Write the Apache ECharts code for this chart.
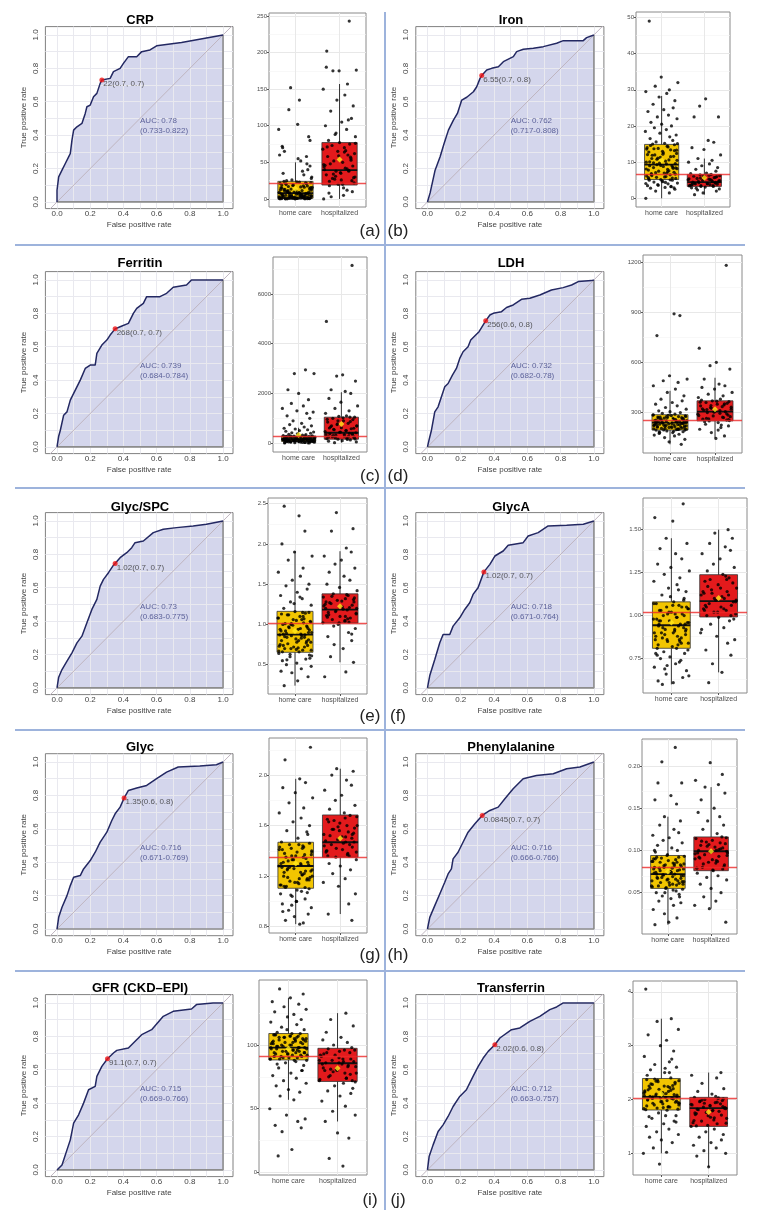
<!DOCTYPE html>
<html><head><meta charset="utf-8">
<script src="https://cdn.jsdelivr.net/npm/echarts@6/dist/echarts.min.js"></script>
<style>html,body{margin:0;padding:0;background:#fff}#c{width:759px;height:1227px}</style>
</head><body><div id="c"></div>
<script>
// ---------------- DATA ----------------
const titles = ['CRP','Iron','Ferritin','LDH','Glyc/SPC','GlycA','Glyc','Phenylalanine','GFR (CKD\u2013EPI)','Transferrin'];
const panelLetters = ['(a)','(b)','(c)','(d)','(e)','(f)','(g)','(h)','(i)','(j)'];
const groups = ['home care','hospitalized'];

// ROC curves: [false positive rate, true positive rate]
const rocCRP = [[0,0],[0,0.07],[0.01,0.15],[0.03,0.19],[0.05,0.23],[0.07,0.27],[0.08,0.29],[0.09,0.37],[0.10,0.43],[0.12,0.45],[0.15,0.47],[0.17,0.53],[0.18,0.57],[0.20,0.58],[0.22,0.63],[0.24,0.65],[0.26,0.71],[0.27,0.73],[0.32,0.74],[0.34,0.78],[0.38,0.80],[0.40,0.83],[0.43,0.87],[0.48,0.87],[0.51,0.90],[0.56,0.91],[0.60,0.935],[0.75,0.955],[1,1]];
const rocIron = [[0,0],[0.016,0.054],[0.046,0.19],[0.076,0.27],[0.10,0.35],[0.126,0.43],[0.156,0.49],[0.18,0.53],[0.206,0.61],[0.236,0.627],[0.276,0.66],[0.296,0.69],[0.316,0.74],[0.326,0.757],[0.356,0.79],[0.386,0.80],[0.426,0.81],[0.456,0.84],[0.516,0.87],[0.536,0.90],[0.576,0.914],[0.636,0.92],[0.696,0.93],[0.776,0.95],[0.816,0.966],[0.936,0.966],[0.956,0.984],[1,1]];
const rocFerritin = [[0,0],[0.01,0.064],[0.02,0.10],[0.04,0.19],[0.06,0.21],[0.08,0.28],[0.11,0.34],[0.14,0.40],[0.17,0.47],[0.20,0.49],[0.23,0.49],[0.24,0.56],[0.27,0.61],[0.30,0.64],[0.32,0.67],[0.35,0.707],[0.38,0.72],[0.43,0.74],[0.46,0.80],[0.48,0.83],[0.52,0.86],[0.54,0.90],[0.62,0.90],[0.66,0.92],[0.70,0.956],[0.78,0.97],[0.81,1.0],[1,1]];
const rocLDH = [[0,0],[0.01,0.044],[0.024,0.10],[0.044,0.21],[0.064,0.24],[0.084,0.30],[0.104,0.36],[0.124,0.38],[0.15,0.43],[0.174,0.47],[0.194,0.53],[0.214,0.57],[0.244,0.60],[0.26,0.64],[0.29,0.67],[0.31,0.69],[0.334,0.73],[0.35,0.755],[0.375,0.79],[0.395,0.80],[0.445,0.81],[0.475,0.835],[0.515,0.85],[0.565,0.884],[0.615,0.89],[0.675,0.91],[0.745,0.94],[0.815,0.954],[0.866,0.97],[0.906,0.99],[0.986,0.996],[1,1]];
const rocGlycSPC = [[0,0],[0.01,0.064],[0.03,0.11],[0.06,0.16],[0.09,0.21],[0.12,0.27],[0.15,0.31],[0.18,0.39],[0.21,0.47],[0.24,0.53],[0.26,0.61],[0.28,0.65],[0.31,0.69],[0.34,0.735],[0.35,0.745],[0.38,0.78],[0.42,0.81],[0.45,0.84],[0.47,0.87],[0.52,0.88],[0.58,0.93],[0.64,0.95],[0.72,0.96],[0.82,0.97],[0.90,0.98],[1,1]];
const rocGlycA = [[0,0],[0.014,0.074],[0.044,0.17],[0.074,0.27],[0.094,0.32],[0.134,0.32],[0.154,0.37],[0.194,0.42],[0.224,0.47],[0.254,0.51],[0.274,0.56],[0.304,0.60],[0.339,0.695],[0.375,0.74],[0.405,0.79],[0.455,0.82],[0.485,0.855],[0.575,0.87],[0.605,0.91],[0.665,0.93],[0.725,0.97],[0.836,0.974],[0.936,0.98],[1,1]];
const rocGlyc = [[0,0],[0.01,0.07],[0.03,0.13],[0.06,0.20],[0.08,0.26],[0.10,0.31],[0.14,0.32],[0.16,0.36],[0.20,0.41],[0.23,0.46],[0.26,0.52],[0.30,0.58],[0.33,0.65],[0.35,0.69],[0.38,0.73],[0.404,0.784],[0.43,0.83],[0.48,0.844],[0.54,0.86],[0.60,0.90],[0.66,0.94],[0.73,0.97],[0.86,0.976],[0.96,0.984],[1,1]];
const rocPhe = [[0,0],[0.014,0.07],[0.044,0.14],[0.074,0.21],[0.104,0.28],[0.124,0.33],[0.144,0.36],[0.154,0.42],[0.184,0.46],[0.204,0.50],[0.244,0.58],[0.285,0.63],[0.329,0.68],[0.375,0.71],[0.425,0.73],[0.465,0.78],[0.515,0.84],[0.575,0.90],[0.655,0.92],[0.756,0.93],[0.836,0.96],[0.916,0.97],[1,1]];
const rocGFR = [[0,0],[0.03,0.03],[0.06,0.12],[0.08,0.18],[0.10,0.28],[0.13,0.33],[0.16,0.40],[0.19,0.48],[0.23,0.50],[0.24,0.56],[0.27,0.62],[0.304,0.666],[0.34,0.70],[0.36,0.716],[0.43,0.73],[0.46,0.76],[0.51,0.81],[0.57,0.84],[0.64,0.92],[0.70,0.95],[0.81,0.964],[0.84,0.99],[0.94,1],[1,1]];
const rocTransferrin = [[0,0],[0.01,0.08],[0.034,0.15],[0.064,0.23],[0.094,0.27],[0.124,0.32],[0.154,0.38],[0.194,0.44],[0.234,0.48],[0.274,0.56],[0.305,0.62],[0.335,0.67],[0.365,0.71],[0.405,0.75],[0.435,0.79],[0.505,0.84],[0.555,0.85],[0.615,0.89],[0.675,0.92],[0.735,0.96],[0.776,0.976],[0.816,1.0],[1,1]];
const rocs = [rocCRP,rocIron,rocFerritin,rocLDH,rocGlycSPC,rocGlycA,rocGlyc,rocPhe,rocGFR,rocTransferrin];

// best threshold point and labels
const thrPoint = [[0.27,0.73],[0.326,0.757],[0.35,0.707],[0.35,0.755],[0.35,0.745],[0.339,0.695],[0.404,0.784],[0.329,0.68],[0.304,0.666],[0.405,0.75]];
const thrLabel = ['22(0.7, 0.7)','6.55(0.7, 0.8)','268(0.7, 0.7)','256(0.6, 0.8)','1.02(0.7, 0.7)','1.02(0.7, 0.7)','1.35(0.6, 0.8)','0.0845(0.7, 0.7)','91.1(0.7, 0.7)','2.02(0.6, 0.8)'];
const aucText = ['AUC: 0.78','AUC: 0.762','AUC: 0.739','AUC: 0.732','AUC: 0.73','AUC: 0.718','AUC: 0.716','AUC: 0.716','AUC: 0.715','AUC: 0.712'];
const ciText = ['(0.733-0.822)','(0.717-0.808)','(0.684-0.784)','(0.682-0.78)','(0.683-0.775)','(0.671-0.764)','(0.671-0.769)','(0.666-0.766)','(0.669-0.766)','(0.663-0.757)'];
const rocTicks = [0,0.2,0.4,0.6,0.8,1];
const rocGrid = [0,0.1,0.2,0.3,0.4,0.5,0.6,0.7,0.8,0.9,1];

// box plot values per group
const hcCRP = [0.5,1,0.3,2,5,12,0.8,3,18,7,1.2,24,9,0.4,15,4,2.5,30,0.7,11,6,21,1.5,45,3.5,8,0.2,16,13,55,2,0.9,19,5.5,28,10,0.6,35,7.5,1.1,14,60,23,3,0.5,9.5,40,17,1.8,72,6.5,0.3,26,12.5,4.5,85,20,1,8.5,48,2.2,33,15.5,0.8,95,5,11.5,22,0.4,65,3.8,13.5,38,1.4,102,7,25,0.6,18.5,52,9,2.8,122,16,0.2,70,4,135,10.5,80,152,1.6,21.5,58,6,0.1,0.9,2.4,3.1,4.8,6.8,0.2,0.5,0.9,1.3,1.7,2.1,2.6,3.2,3.9,4.6,5.3,6.1,7.1,8.1,9.2,10.3,11.4,12.6,13.8,15.1,16.4,17.8,19.2,20.6,22.3,23.5,0.7,1.9,3.4,5.9];
const hsCRP = [0,5,12,18,20,25,28,30,33,36,38,38,40,42,45,48,50,52,55,58,60,62,65,68,70,73,75,77,80,85,88,95,100,105,110,120,127,135,142,150,157,175,176,175,202,243,15,8,22,27,35,44,57,66,3,10,90,108,180,20,24,29,34,41,47,53,59,64,71,76,31,39,46,26];
const hcIron = [0,1.5,2,2.5,2.8,3,3.2,3.5,3.8,4,4.2,4.5,4.8,5,5,5.2,5.5,5.8,6,6.2,6.5,6.8,7,7.2,7.5,7.8,8,8.2,8.5,8.8,9,9,9.3,9.6,10,10.3,10.6,11,11.3,11.6,12,12.4,12.8,13,13.4,13.8,14,14.4,14.8,15,15.2,15.6,16,16.5,17,17.5,18,18.5,19,19.5,20,20.5,21,22,22.5,23,24,24.5,25,26,27,28,29,29.5,30,31,32,33.5,49,3.3,4.4,6.6,8.4,10.8,12.2,13.6,5.6,7.4,9.8,2.9,3.6,5.1,5.4,5.9,6.3,6.7,7.1,7.6,8.1,8.6,9.1,9.5,10.1,10.5,11.1,11.5,12.1,12.6,13.2,13.7,14.2,14.6,15.1,5.7,6.9,8.3,9.7,11.9,13.3,4.6,4.1];
const hsIron = [1,1.5,2,2.3,2.6,2.9,3.1,3.3,3.5,3.6,3.8,3.9,4,4.1,4.3,4.4,4.5,4.6,4.8,5,5.1,5.3,5.5,5.7,5.9,6.1,6.3,6.5,6.6,6.8,7,7.5,8,8.5,9,9.5,10,10.5,11,12,13.5,14,15.5,16,22.5,22.5,25.5,27.5,3.4,4.2,5.2,2.8,6,3.3,3.5,3.7,4.0,4.2,4.5,4.7,5.0,5.4,5.8,6.2,6.4,3.9,4.9,5.6];
const hcFerritin = [10,20,30,40,50,60,70,80,90,100,110,120,130,140,150,160,170,180,190,200,210,220,235,250,265,280,290,300,320,340,360,380,400,420,450,480,510,540,570,600,650,700,750,800,900,1000,1100,1200,1250,1300,1400,1500,1600,1750,2000,2150,2800,2800,2950,25,45,65,85,105,125,145,165,185,205,225,245,270,15,35,55,75,95,115,135,12,28,48,72,78,88,96,108,118,128,138,148,158,168,178,188,198,208,218,228,240,255,268,280,292,82,112,142,172,202,232,262,60];
const hsFerritin = [20,50,80,100,130,160,180,200,230,260,290,320,350,380,400,420,440,470,500,540,580,620,660,700,750,800,850,900,950,1000,1045,1080,1100,1200,1300,1400,1500,1650,1800,2000,2080,2150,2500,2700,2750,4900,7150,150,300,600,900,1050,250,350,700,170,210,280,330,390,450,520,610,690,780,870,960,1020,240,560];
const hcLDH = [110,125,140,150,160,165,170,175,180,185,190,195,198,200,205,210,212,215,218,220,222,225,228,230,232,235,238,240,242,245,248,250,252,255,258,260,263,266,270,273,276,280,283,285,290,295,300,305,310,320,330,340,350,360,370,380,400,420,440,460,480,490,500,520,760,880,890,185,195,205,215,225,235,245,255,265,275,200,230,260,180,210,196,199,203,207,211,214,217,221,224,227,231,234,237,241,244,247,251,254,257,262,267,272,277,282,286,202,226,249,268,188];
const hsLDH = [145,160,180,200,210,220,230,240,250,255,260,270,275,280,290,295,300,305,310,315,320,330,335,340,350,355,360,365,370,380,390,400,410,420,440,450,460,470,500,560,580,600,685,1180,225,265,285,325,345,375,195,245,252,262,272,282,292,302,312,322,332,342,352,362,368,258,318];
const hcGlycSPC = [0.24,0.3,0.35,0.4,0.42,0.45,0.48,0.5,0.52,0.55,0.57,0.6,0.62,0.64,0.66,0.68,0.7,0.72,0.74,0.76,0.78,0.8,0.82,0.84,0.86,0.87,0.88,0.9,0.92,0.94,0.96,0.98,1.0,1.02,1.04,1.06,1.08,1.1,1.12,1.14,1.16,1.2,1.24,1.28,1.32,1.36,1.4,1.44,1.48,1.5,1.55,1.6,1.65,1.7,1.8,1.85,1.9,2.0,2.16,2.35,2.47,0.58,0.63,0.69,0.73,0.77,0.83,0.89,0.95,1.01,1.07,1.13,0.71,0.85,0.93,0.97,1.15,0.67,0.79,1.26,1.34,0.66,0.68,0.7,0.72,0.75,0.78,0.81,0.84,0.86,0.88,0.9,0.92,0.95,0.97,0.99,1.01,1.03,1.05,1.08,1.1,1.12,1.15,0.74,0.8,0.87,0.94,1.0,1.06,0.61,0.56];
const hsGlycSPC = [0.35,0.41,0.53,0.6,0.7,0.75,0.8,0.85,0.9,0.95,1.0,1.02,1.04,1.06,1.08,1.1,1.12,1.14,1.16,1.18,1.2,1.22,1.24,1.26,1.28,1.3,1.32,1.34,1.36,1.38,1.42,1.46,1.5,1.55,1.6,1.65,1.7,1.75,1.8,1.85,1.9,1.95,2.16,2.19,2.39,1.03,1.11,1.19,1.27,1.33,0.98,1.07,1.23,0.88,1.02,1.05,1.09,1.13,1.17,1.21,1.25,1.29,1.31,1.35,1.37,1.15,1.2,1.28,1.1];
const hcGlycA = [0.6,0.61,0.62,0.64,0.66,0.68,0.7,0.72,0.73,0.75,0.76,0.78,0.79,0.8,0.81,0.82,0.84,0.85,0.86,0.88,0.89,0.9,0.91,0.92,0.93,0.94,0.95,0.96,0.97,0.98,0.99,1.0,1.01,1.02,1.03,1.04,1.05,1.06,1.07,1.08,1.1,1.12,1.14,1.16,1.18,1.2,1.22,1.24,1.26,1.28,1.3,1.33,1.36,1.39,1.42,1.45,1.55,1.57,1.65,0.83,0.87,0.95,1.01,0.74,0.77,0.92,0.97,1.05,0.69,0.86,0.9,1.09,1.11,0.81,0.83,0.84,0.86,0.87,0.88,0.9,0.91,0.93,0.94,0.95,0.96,0.98,0.99,1.0,1.02,1.03,1.04,1.06,1.07,0.85,0.89,0.92,0.97,1.01,1.05,0.78,0.71,1.15,0.65];
const hsGlycA = [0.61,0.67,0.72,0.77,0.8,0.84,0.86,0.88,0.9,0.93,0.95,0.97,0.99,1.0,1.01,1.02,1.03,1.04,1.05,1.06,1.07,1.08,1.09,1.1,1.12,1.14,1.15,1.16,1.18,1.2,1.22,1.24,1.26,1.28,1.3,1.33,1.36,1.38,1.4,1.42,1.45,1.48,1.5,1.03,1.11,1.17,0.98,1.13,1.21,0.92,1.0,1.02,1.04,1.06,1.08,1.1,1.12,1.14,1.16,1.19,1.21,1.23,1.05,1.09,1.13];
const hcGlyc = [0.82,0.83,0.85,0.88,0.9,0.93,0.95,0.98,1.0,1.02,1.04,1.06,1.08,1.1,1.12,1.14,1.16,1.18,1.2,1.22,1.24,1.26,1.28,1.3,1.32,1.34,1.36,1.38,1.4,1.42,1.44,1.47,1.5,1.53,1.56,1.6,1.63,1.66,1.7,1.74,1.78,1.82,1.86,1.9,1.94,1.97,2.12,2.22,1.05,1.09,1.13,1.17,1.21,1.25,1.29,1.33,1.37,1.41,1.45,1.11,1.19,1.27,1.35,1.43,1.07,1.15,1.23,1.31,1.39,0.97,1.11,1.13,1.15,1.17,1.19,1.21,1.23,1.25,1.27,1.29,1.31,1.33,1.35,1.37,1.39,1.41,1.43,1.45,1.46,1.12,1.18,1.24,1.3,1.36,1.42,1.2,1.26,1.0,0.92,1.55];
const hsGlyc = [0.85,0.9,0.98,1.06,1.12,1.15,1.18,1.22,1.25,1.28,1.3,1.33,1.35,1.37,1.39,1.41,1.43,1.45,1.47,1.49,1.51,1.53,1.55,1.57,1.6,1.62,1.65,1.68,1.7,1.73,1.76,1.8,1.84,1.88,1.92,1.96,2.0,2.03,2.05,1.36,1.4,1.46,1.52,1.58,1.64,1.38,1.44,1.5,1.56,1.66,1.36,1.39,1.42,1.45,1.48,1.51,1.54,1.57,1.6,1.63,1.67,1.4,1.47,1.53,1.59];
const hcPhe = [0.012,0.015,0.02,0.025,0.03,0.035,0.038,0.04,0.043,0.046,0.048,0.05,0.052,0.054,0.056,0.058,0.06,0.062,0.064,0.066,0.068,0.07,0.071,0.072,0.073,0.075,0.077,0.079,0.081,0.083,0.085,0.087,0.089,0.091,0.093,0.095,0.098,0.1,0.103,0.106,0.109,0.112,0.115,0.118,0.121,0.125,0.13,0.135,0.14,0.155,0.16,0.165,0.18,0.18,0.205,0.222,0.057,0.061,0.065,0.069,0.074,0.078,0.082,0.086,0.09,0.059,0.067,0.076,0.084,0.092,0.063,0.08,0.053,0.045,0.055,0.058,0.06,0.062,0.064,0.066,0.068,0.07,0.072,0.074,0.076,0.078,0.08,0.082,0.084,0.086,0.088,0.09,0.092,0.094,0.063,0.071,0.079,0.087,0.059,0.067,0.075,0.083,0.05,0.1];
const hsPhe = [0.015,0.031,0.035,0.04,0.045,0.05,0.055,0.06,0.065,0.068,0.07,0.073,0.076,0.078,0.08,0.083,0.086,0.088,0.09,0.093,0.095,0.097,0.098,0.1,0.102,0.104,0.106,0.108,0.11,0.112,0.114,0.116,0.12,0.125,0.13,0.135,0.14,0.145,0.15,0.16,0.168,0.175,0.178,0.183,0.19,0.204,0.085,0.092,0.099,0.105,0.109,0.079,0.077,0.081,0.084,0.087,0.091,0.094,0.097,0.1,0.103,0.107,0.111,0.115,0.089,0.096,0.101];
const hcGFR = [13,18,32,35,37,40,42,45,50,57,60,63,65,68,70,72,74,76,78,80,82,84,86,88,89,90,91,92,93,94,95,96,97,98,99,100,101,102,103,104,105,106,107,108,109,110,112,114,116,118,120,122,124,126,128,130,132,134,137,140,144,87,93,97,101,105,91,95,99,103,107,89,96,100,104,108,92,98,102,106,94,88,89,90,91,92,93,94,95,96,97,98,99,100,101,102,103,104,105,106,107,108,109,90,94,98,102,106,85,112,80];
const hsGFR = [5,11,27,31,40,45,48,52,56,60,62,64,66,68,70,72,74,76,78,80,82,84,85,86,87,88,90,92,94,96,97,98,100,102,104,106,110,115,120,125,73,77,81,89,93,71,79,83,91,95,72,75,78,80,83,85,87,89,92,94,96,86,88,74,81];
const hcTransferrin = [0.8,1.0,1.02,1.1,1.2,1.25,1.3,1.35,1.4,1.45,1.5,1.55,1.6,1.65,1.7,1.75,1.8,1.83,1.86,1.9,1.93,1.96,2.0,2.02,2.04,2.06,2.08,2.1,2.13,2.16,2.2,2.24,2.28,2.32,2.36,2.4,2.45,2.5,2.55,2.6,2.65,2.7,2.8,2.9,3.0,3.1,3.2,3.3,3.45,3.5,4.05,1.85,1.95,2.05,2.15,2.25,2.35,1.88,1.98,2.09,2.19,2.29,1.82,1.92,2.12,2.22,2.38,1.58,1.68,2.58,2.75,1.81,1.84,1.87,1.9,1.93,1.96,1.99,2.01,2.03,2.05,2.07,2.11,2.14,2.17,2.21,2.25,2.29,2.33,2.37,1.86,1.94,2.02,2.1,2.18,2.26,2.34,1.97,2.07,1.7,2.5];
const hsTransferrin = [0.75,0.95,1.0,1.05,1.1,1.15,1.2,1.25,1.3,1.35,1.4,1.45,1.5,1.55,1.6,1.65,1.7,1.75,1.78,1.8,1.82,1.84,1.86,1.88,1.9,1.92,1.94,1.96,1.98,2.0,2.02,2.04,2.1,2.15,2.2,2.3,2.4,2.45,2.5,1.52,1.62,1.72,1.83,1.93,2.03,1.57,1.67,1.87,1.97,2.06,1.51,1.56,1.61,1.66,1.71,1.76,1.81,1.85,1.89,1.91,1.95,1.99,2.01,1.74,1.79];
const homeVals = [hcCRP,hcIron,hcFerritin,hcLDH,hcGlycSPC,hcGlycA,hcGlyc,hcPhe,hcGFR,hcTransferrin];
const hospVals = [hsCRP,hsIron,hsFerritin,hsLDH,hsGlycSPC,hsGlycA,hsGlyc,hsPhe,hsGFR,hsTransferrin];

// horizontal jitter offsets (category units)
const jitter = [-0.31,0.12,0.27,-0.05,-0.22,0.35,0.03,-0.37,0.18,-0.14,0.31,-0.26,0.08,0.22,-0.33,-0.09,0.15,0.37,-0.18,0.01,-0.29,0.25,-0.02,0.33,-0.12,0.10,-0.35,0.20,-0.24,0.06,0.29,-0.07,-0.31,0.14,0.36,-0.19,0.04,-0.28,0.24,-0.11,0.32,-0.36,0.09,0.17,-0.23,-0.03,0.28,-0.16,0.35,-0.30,0.02,0.21,-0.08,-0.34,0.13,0.30,-0.21,0.07,-0.13,0.26,-0.27,0.19,0.34,-0.04,-0.38,0.11,-0.17,0.23,0.00,-0.25,0.36,-0.10,0.16,-0.32,0.05,0.27,-0.20,0.31,-0.06,0.12,-0.37,0.18,-0.15,0.38,-0.01,-0.29,0.22,0.09,-0.24,0.33,-0.11,0.03,-0.35,0.25,0.14,-0.19,0.29,-0.08,0.20,-0.30,0.07,-0.23,0.32,-0.14,0.17,-0.36,0.26,-0.02,0.11,-0.28,0.36,-0.09,0.21,-0.33,0.04,0.30,-0.18,0.15,-0.26,0.37];

// box statistics [lower whisker, Q1, median, Q3, upper whisker]
const statsHome = [[0,1,8,24,50],[0,5.2,9.3,14.9,28.3],[0,70,150,293,620],[110,195,240,287,430],[0.24,0.654,0.873,1.163,1.91],[0.6,0.81,0.944,1.08,1.45],[0.82,1.104,1.28,1.468,1.97],[0.012,0.055,0.072,0.094,0.14],[57,88.3,98,109,137],[1.0,1.805,2.05,2.39,3.5]];
const statsHosp = [[0,19,39.5,77,157],[1,3.3,4.5,6.6,11],[20,160,420,1045,2050],[148,250,306,370,508],[0.53,1.018,1.183,1.38,1.91],[0.67,0.992,1.084,1.238,1.5],[0.9,1.349,1.468,1.684,2.05],[0.031,0.076,0.099,0.116,0.175],[40,71.4,85.7,97.4,125],[0.75,1.5,1.84,2.04,2.5]];
const meanHome = [14,10.5,330,255,0.92,0.96,1.3,0.075,97,2.1];
const meanHosp = [54,5.7,775,320,1.225,1.103,1.5,0.099,81.8,1.77];
const cutoff = [22,6.55,268,256,1.02,1.02,1.35,0.0845,91.1,2.02];

// box plot value axes
const boxYRange = [[-11,254],[-2.4,51.5],[-355,7490],[58,1242],[0.136,2.571],[0.55,1.684],[0.75,2.293],[0.001,0.232],[-2,151],[0.598,4.2]];
const boxYTicks = [[0,50,100,150,200,250],[0,10,20,30,40,50],[0,2000,4000,6000],[300,600,900,1200],[0.5,1.0,1.5,2.0,2.5],[0.75,1.0,1.25,1.5],[0.8,1.2,1.6,2.0],[0.05,0.1,0.15,0.2],[0,50,100],[1,2,3,4]];
const boxYMinor = [[25,75,125,175,225],[5,15,25,35,45],[1000,3000,5000,7000],[150,450,750,1050],[0.25,0.75,1.25,1.75,2.25],[0.625,0.875,1.125,1.375,1.625],[1.0,1.4,1.8,2.2],[0.025,0.075,0.125,0.175,0.225],[25,75,125],[1.5,2.5,3.5]];
const boxYDecimals = [0,0,0,0,1,2,1,2,0,0];

// ---------------- LAYOUT / STYLE ----------------
const FONT = '"Liberation Sans", Arial, Helvetica, sans-serif';
const rocLeft = [45.4, 415.8], rocWidth = [187.6, 188.1];
const rocTop = [26.6, 271.6, 512.6, 753.7, 994.6], rocHeight = 182;
const titleY = [20, 263, 507, 747, 988];
const titleX = [140, 511];
const letterX = [370, 398], letterY = [231, 476, 716, 955, 1200];
const boxPos = [[269,366,13,207],[636,730,12,207],[273,367,257,452],[643,742,255,453],[268,367,498,694],[643,747,498,693],[269,367,738,933],[642,737,739,934],[259,367,980,1175],[633,737,981,1175]];
const boxFill = ['#f2c500', '#e31a1c'];

const grids = [], xAxes = [], yAxes = [], series = [];
const gl = (arr, key, color, width) => arr.map(v => ({[key]: v, lineStyle: {color: color, width: width, type: 'solid'}}));

for (let i = 0; i < 10; i++) {
  const col = i % 2, row = Math.floor(i / 2);
  // ---- ROC panel ----
  let g = grids.length;
  grids.push({left: rocLeft[col], top: rocTop[row], width: rocWidth[col], height: rocHeight,
    show: true, borderColor: '#808080', borderWidth: 1, backgroundColor: 'transparent', containLabel: false, outerBoundsMode: 'none'});
  xAxes.push({gridIndex: g, type: 'value', min: -0.07, max: 1.06,
    axisLine: {show: false}, splitLine: {show: false},
    axisTick: {show: true, customValues: rocTicks, length: 3, lineStyle: {color: '#555'}},
    axisLabel: {customValues: rocTicks, formatter: v => v.toFixed(1), fontSize: 8, color: '#444', margin: 1, fontFamily: FONT},
    name: 'False positive rate', nameLocation: 'middle', nameGap: 12,
    nameTextStyle: {fontSize: 8, color: '#444', fontFamily: FONT}});
  yAxes.push({gridIndex: g, type: 'value', min: -0.04, max: 1.05,
    axisLine: {show: false}, splitLine: {show: false},
    axisTick: {show: true, customValues: rocTicks, length: 3, lineStyle: {color: '#555'}},
    axisLabel: {customValues: rocTicks, formatter: v => v.toFixed(1), fontSize: 8, color: '#444', margin: 6, rotate: 90, fontFamily: FONT},
    name: 'True positive rate', nameLocation: 'middle', nameGap: 18,
    nameTextStyle: {fontSize: 8, color: '#444', fontFamily: FONT}});
  series.push({type: 'line', xAxisIndex: g, yAxisIndex: g, data: rocs[i], showSymbol: false, z: 1,
    lineStyle: {width: 0}, areaStyle: {color: '#d4d6ec', opacity: 1}, silent: true, animation: false,
    markLine: {silent: true, symbol: 'none', z: 2, animation: false, label: {show: false},
      data: gl(rocGrid, 'xAxis', '#e9e9ef', 1).concat(gl(rocGrid, 'yAxis', '#e9e9ef', 1))}});
  series.push({type: 'line', xAxisIndex: g, yAxisIndex: g, data: [[-0.1,-0.1],[1.1,1.1]], showSymbol: false, z: 3, clip: true,
    lineStyle: {color: '#bfb5c0', width: 1}, silent: true, animation: false});
  series.push({type: 'line', xAxisIndex: g, yAxisIndex: g, data: [[1,1],[1,0],[0,0]], showSymbol: false, z: 3,
    lineStyle: {color: '#8d8d8d', width: 1.6}, silent: true, animation: false});
  series.push({type: 'line', xAxisIndex: g, yAxisIndex: g, data: rocs[i], showSymbol: false, z: 4,
    lineStyle: {color: '#232862', width: 1.5}, silent: true, animation: false});
  series.push({type: 'scatter', xAxisIndex: g, yAxisIndex: g, data: [thrPoint[i]], symbolSize: 5, z: 5,
    itemStyle: {color: '#f01414'}, silent: true, animation: false,
    label: {show: true, position: 'right', distance: 0, offset: [-1, 4], formatter: thrLabel[i], fontSize: 8, color: '#333', fontFamily: FONT}});
  series.push({type: 'scatter', xAxisIndex: g, yAxisIndex: g, data: [[0.5, 0.455]], symbolSize: 0, z: 5, silent: true, animation: false,
    label: {show: true, position: 'right', distance: 0, formatter: aucText[i] + '\n' + ciText[i], fontSize: 8, lineHeight: 10, color: '#3d4384', fontFamily: FONT}});

  // ---- Box / jitter panel ----
  g = grids.length;
  const p = boxPos[i];
  grids.push({left: p[0], top: p[2], width: p[1] - p[0], height: p[3] - p[2],
    show: true, borderColor: '#8a8a8a', borderWidth: 1, backgroundColor: 'transparent', containLabel: false, outerBoundsMode: 'none'});
  xAxes.push({gridIndex: g, type: 'value', min: 0.4, max: 2.6,
    axisLine: {show: false}, splitLine: {show: false},
    axisTick: {show: true, customValues: [1, 2], length: 2, lineStyle: {color: '#555'}},
    axisLabel: {customValues: [1, 2], formatter: v => groups[Math.round(v) - 1], fontSize: 7, color: '#4d4d4d', margin: 3, fontFamily: FONT}});
  const dec = boxYDecimals[i];
  yAxes.push({gridIndex: g, type: 'value', min: boxYRange[i][0], max: boxYRange[i][1],
    axisLine: {show: false}, splitLine: {show: false},
    axisTick: {show: true, customValues: boxYTicks[i], length: 2, lineStyle: {color: '#555'}},
    axisLabel: {customValues: boxYTicks[i], formatter: v => v.toFixed(dec), fontSize: 6, color: '#4d4d4d', margin: 2, fontFamily: FONT}});
  const boxData = [[1].concat(statsHome[i]), [2].concat(statsHosp[i])];
  series.push({type: 'custom', xAxisIndex: g, yAxisIndex: g, data: boxData, z: 2, silent: true, animation: false,
    encode: {x: 0, y: [1, 2, 3, 4, 5]},
    renderItem: function (params, api) {
      const x = api.value(0);
      const pl = api.coord([x, api.value(1)]), pq1 = api.coord([x, api.value(2)]), pm = api.coord([x, api.value(3)]),
            pq3 = api.coord([x, api.value(4)]), ph = api.coord([x, api.value(5)]);
      const l = api.coord([x - 0.4, api.value(3)])[0], r = api.coord([x + 0.4, api.value(3)])[0];
      return {type: 'group', children: [
        {type: 'line', shape: {x1: pl[0], y1: pl[1], x2: ph[0], y2: ph[1]}, style: {stroke: '#333', lineWidth: 1}},
        {type: 'rect', shape: {x: l, y: pq3[1], width: r - l, height: pq1[1] - pq3[1]}, style: {fill: boxFill[params.dataIndex], stroke: '#333', lineWidth: 0.8}},
        {type: 'line', shape: {x1: l, y1: pm[1], x2: r, y2: pm[1]}, style: {stroke: '#111', lineWidth: 1.8}}
      ]};
    },
    markLine: {silent: true, symbol: 'none', z: 1, animation: false, label: {show: false},
      data: gl(boxYMinor[i], 'yAxis', '#f3f3f3', 0.6).concat(gl(boxYTicks[i], 'yAxis', '#e8e8e8', 1)).concat(gl([1, 2], 'xAxis', '#e8e8e8', 1))}});
  const pts = [];
  homeVals[i].forEach((v, k) => pts.push([1 + jitter[(k + i * 7) % jitter.length], v]));
  hospVals[i].forEach((v, k) => pts.push([2 + jitter[(k + 41 + i * 3) % jitter.length], v]));
  series.push({type: 'scatter', xAxisIndex: g, yAxisIndex: g, data: pts, symbolSize: 3.2, z: 3, silent: true, animation: false,
    itemStyle: {color: '#000'}});
  series.push({type: 'scatter', xAxisIndex: g, yAxisIndex: g, data: [[1, meanHome[i]], [2, meanHosp[i]]], symbol: 'diamond', symbolSize: 6, z: 4,
    silent: true, animation: false, itemStyle: {color: '#ffe81a'},
    markLine: {silent: true, symbol: 'none', z: 6, animation: false, label: {show: false},
      data: [{yAxis: cutoff[i], lineStyle: {color: 'rgba(236,40,40,0.8)', width: 1.3, type: 'solid'}}]}});
}

// ---------------- GRAPHICS: separators, titles, panel letters ----------------
const graphics = [];
const sepColor = '#9db3dc';
graphics.push({type: 'line', shape: {x1: 385, y1: 12, x2: 385, y2: 1210}, style: {stroke: sepColor, lineWidth: 2}, silent: true});
[245, 488, 730, 971].forEach(y => graphics.push({type: 'line', shape: {x1: 15, y1: y, x2: 745, y2: y}, style: {stroke: sepColor, lineWidth: 2}, silent: true}));
for (let i = 0; i < 10; i++) {
  const col = i % 2, row = Math.floor(i / 2);
  graphics.push({type: 'text', x: titleX[col], y: titleY[row], silent: true,
    style: {text: titles[i], fill: '#000', font: 'bold 13px ' + FONT, align: 'center', verticalAlign: 'middle'}});
  graphics.push({type: 'text', x: letterX[col], y: letterY[row], silent: true,
    style: {text: panelLetters[i], fill: '#222', font: '17px ' + FONT, align: 'center', verticalAlign: 'middle'}});
}

const chart = echarts.init(document.getElementById('c'), null, {renderer: 'canvas', width: 759, height: 1227});
chart.setOption({animation: false, backgroundColor: '#fff', grid: grids, xAxis: xAxes, yAxis: yAxes, series: series, graphic: graphics});
</script></body></html>
